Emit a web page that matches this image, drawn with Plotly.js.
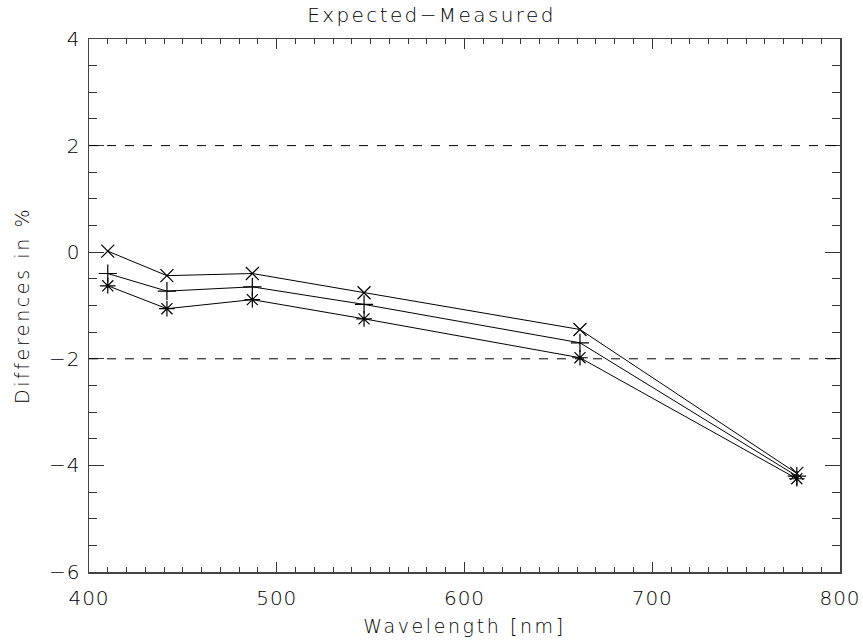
<!DOCTYPE html>
<html>
<head>
<meta charset="utf-8">
<script src="https://cdn.plot.ly/plotly-3.0.1.min.js"></script>
<style>
html,body{margin:0;padding:0;background:#fff;}
#plot{width:863px;height:643px;}
.xtick text, .ytick text { letter-spacing: 1px; }
.g-xtitle text, .g-ytitle text { letter-spacing: 2.6px; }
.g-gtitle text { letter-spacing: 2.4px; }
</style>
</head>
<body>
<div id="plot"></div>
<script>
var wavelengths = [410, 441.5, 487, 546.5, 661.5, 777];
var seriesX = [0.02, -0.44, -0.40, -0.76, -1.45, -4.15];
var seriesPlus = [-0.40, -0.73, -0.65, -0.98, -1.70, -4.20];
var seriesStar = [-0.63, -1.06, -0.89, -1.25, -1.98, -4.25];
var dashLevels = [2, -2];
var xTickVals = [400, 500, 600, 700, 800];
var yTickVals = [-6, -4, -2, 0, 2, 4];

var fontFam = 'DejaVu Sans, Liberation Sans, sans-serif';
var txtColor = '#000';
var W = 200;

function mk(y, sym) {
  return {
    x: wavelengths, y: y, type: 'scatter', mode: 'lines+markers',
    line: {color: '#000', width: 1},
    marker: {symbol: sym, size: 13, color: '#000', line: {color: '#000', width: 1.2}},
    showlegend: false, hoverinfo: 'skip'
  };
}
var traces = [mk(seriesX, 'x-thin-open'), mk(seriesPlus, 'cross-thin-open'), mk(seriesStar, 'asterisk-open')];

var shapes = dashLevels.map(function (v) {
  return {type: 'line', xref: 'x', yref: 'y', x0: 400, x1: 800, y0: v, y1: v,
    line: {color: '#000', width: 1, dash: '9px,9px'}};
});

var layout = {
  width: 863, height: 643,
  margin: {l: 89, r: 23, t: 39, b: 71},
  paper_bgcolor: '#fff', plot_bgcolor: '#fff',
  font: {family: fontFam, color: txtColor, size: 19, weight: W},
  title: {text: 'Expected\u2212Measured', font: {family: fontFam, size: 20, color: txtColor, weight: W},
    x: 0.5, xanchor: 'center', y: 0.977, yanchor: 'middle'},
  xaxis: {
    range: [400, 800], tickmode: 'array', tickvals: xTickVals, ticktext: xTickVals.map(String),
    ticks: 'inside', ticklen: 10, tickwidth: 1, tickcolor: '#333',
    showline: true, linecolor: '#444', linewidth: 1.5, mirror: 'allticks',
    showgrid: false, zeroline: false, ticklabelstandoff: 7,
    minor: {dtick: 10, ticks: 'inside', ticklen: 5, tickcolor: '#333', tickwidth: 1, showgrid: false},
    tickfont: {family: fontFam, size: 20, color: txtColor, weight: W},
    title: {text: 'Wavelength [nm]', font: {family: fontFam, size: 19, color: txtColor, weight: W}, standoff: 11}
  },
  yaxis: {
    range: [-6, 4], tickmode: 'array', tickvals: yTickVals, ticktext: yTickVals.map(function (v) { return v < 0 ? '\u2212' + Math.abs(v) : String(v); }),
    ticks: 'inside', ticklen: 15, tickwidth: 1, tickcolor: '#333',
    showline: true, linecolor: '#444', linewidth: 1.5, mirror: 'allticks',
    showgrid: false, zeroline: false, ticklabelstandoff: 3,
    minor: {dtick: 0.5, ticks: 'inside', ticklen: 8, tickcolor: '#333', tickwidth: 1, showgrid: false},
    tickfont: {family: fontFam, size: 20, color: txtColor, weight: W},
    title: {text: 'Differences in %', font: {family: fontFam, size: 19, color: txtColor, weight: W}, standoff: 14}
  },
  shapes: shapes
};

Plotly.newPlot('plot', traces, layout, {displayModeBar: false, staticPlot: true});
</script>
</body>
</html>
